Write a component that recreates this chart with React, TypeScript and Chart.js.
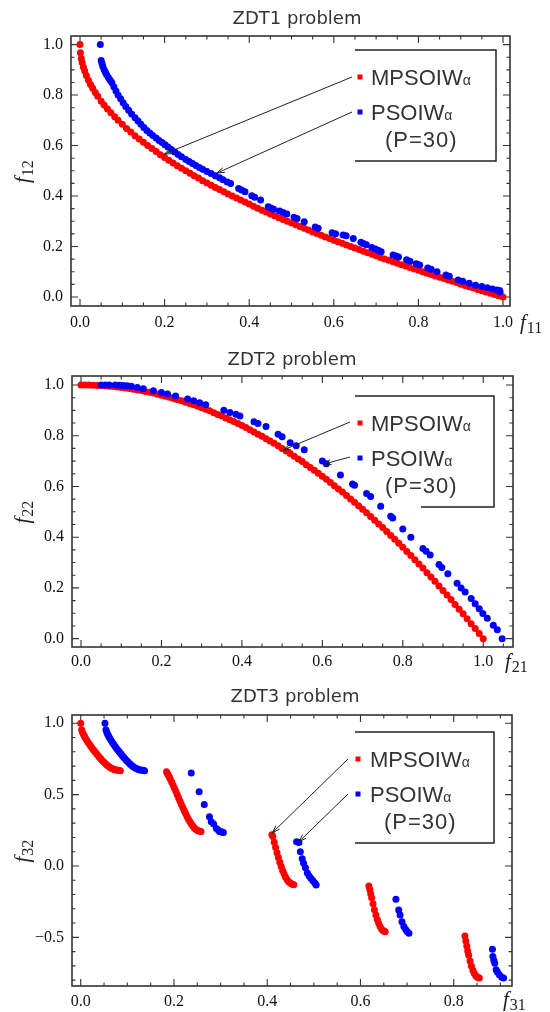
import React, { useEffect, useRef } from 'react';
import { Chart, registerables } from 'chart.js';

Chart.register(...registerables);

// ---------------- DATA ----------------
// ZDT1
const zdt1MpsoF1 = [0, 0.001, 0.003, 0.005, 0.008, 0.011, 0.015, 0.02, 0.025, 0.03, 0.036, 0.042, 0.05, 0.057, 0.065, 0.073, 0.082, 0.09,
  0.10, 0.11, 0.12, 0.13, 0.14, 0.15, 0.16, 0.17, 0.18, 0.19, 0.20, 0.21, 0.22, 0.23, 0.24, 0.25, 0.26, 0.27, 0.28, 0.29,
  0.30, 0.31, 0.32, 0.33, 0.34, 0.35, 0.36, 0.37, 0.38, 0.39, 0.40, 0.41, 0.42, 0.43, 0.44, 0.45, 0.46, 0.47, 0.48, 0.49,
  0.50, 0.51, 0.52, 0.53, 0.54, 0.55, 0.56, 0.57, 0.58, 0.59, 0.60, 0.61, 0.62, 0.63, 0.64, 0.65, 0.66, 0.67, 0.68, 0.69,
  0.70, 0.71, 0.72, 0.73, 0.74, 0.75, 0.76, 0.77, 0.78, 0.79, 0.80, 0.81, 0.82, 0.83, 0.84, 0.85, 0.86, 0.87, 0.88, 0.89,
  0.90, 0.91, 0.92, 0.93, 0.94, 0.95, 0.96, 0.97, 0.98, 0.99, 1.00];
const zdt1MpsoF2 = [1.000, 0.968, 0.945, 0.929, 0.911, 0.895, 0.878, 0.859, 0.842, 0.827, 0.810, 0.795, 0.776, 0.761, 0.745, 0.730, 0.714, 0.700,
  0.684, 0.668, 0.654, 0.639, 0.626, 0.613, 0.600, 0.588, 0.576, 0.564, 0.553, 0.542, 0.531, 0.520, 0.510, 0.500, 0.490, 0.480, 0.471, 0.461,
  0.452, 0.443, 0.434, 0.426, 0.417, 0.408, 0.400, 0.392, 0.384, 0.376, 0.368, 0.360, 0.352, 0.344, 0.337, 0.329, 0.322, 0.314, 0.307, 0.300,
  0.293, 0.286, 0.279, 0.272, 0.265, 0.258, 0.252, 0.245, 0.238, 0.232, 0.225, 0.219, 0.213, 0.206, 0.200, 0.194, 0.188, 0.181, 0.175, 0.169,
  0.163, 0.157, 0.151, 0.146, 0.140, 0.134, 0.128, 0.123, 0.117, 0.111, 0.106, 0.100, 0.094, 0.089, 0.083, 0.078, 0.073, 0.067, 0.062, 0.057,
  0.051, 0.046, 0.041, 0.036, 0.030, 0.025, 0.020, 0.015, 0.010, 0.005, 0.000];
const zdt1PsoF1 = [0.048, 0.050, 0.052, 0.054, 0.057, 0.060, 0.063, 0.067, 0.071, 0.075, 0.080, 0.085, 0.090, 0.096, 0.102, 0.108, 0.115, 0.122,
  0.130, 0.137, 0.144, 0.151, 0.158, 0.165, 0.172, 0.180, 0.187, 0.194, 0.201, 0.208, 0.216, 0.224, 0.232, 0.240, 0.250, 0.258, 0.266, 0.274,
  0.282, 0.290, 0.300, 0.310, 0.320, 0.330, 0.338, 0.348, 0.356, 0.375, 0.382, 0.390, 0.406, 0.413, 0.427, 0.445, 0.451, 0.458, 0.472, 0.480,
  0.489, 0.506, 0.513, 0.530, 0.556, 0.563, 0.596, 0.604, 0.622, 0.629, 0.646, 0.664, 0.670, 0.677, 0.690, 0.698, 0.705, 0.712, 0.740, 0.747,
  0.753, 0.772, 0.780, 0.795, 0.803, 0.822, 0.830, 0.844, 0.865, 0.873, 0.894, 0.905, 0.920, 0.935, 0.950, 0.963, 0.975, 0.985, 0.992, 0.993];
const zdt1PsoF2 = [1.000, 0.937, 0.925, 0.913, 0.900, 0.890, 0.880, 0.870, 0.860, 0.850, 0.833, 0.816, 0.800, 0.785, 0.770, 0.755, 0.740, 0.725,
  0.710, 0.697, 0.684, 0.672, 0.660, 0.650, 0.640, 0.630, 0.620, 0.612, 0.603, 0.594, 0.584, 0.574, 0.565, 0.556, 0.545, 0.537, 0.529, 0.521,
  0.513, 0.506, 0.497, 0.489, 0.480, 0.472, 0.465, 0.456, 0.450, 0.430, 0.424, 0.417, 0.401, 0.395, 0.384, 0.358, 0.353, 0.348, 0.341, 0.335,
  0.329, 0.316, 0.311, 0.298, 0.277, 0.272, 0.255, 0.251, 0.246, 0.243, 0.232, 0.217, 0.212, 0.207, 0.196, 0.190, 0.185, 0.179, 0.166, 0.162,
  0.159, 0.148, 0.142, 0.132, 0.127, 0.115, 0.110, 0.100, 0.087, 0.082, 0.067, 0.062, 0.055, 0.047, 0.042, 0.037, 0.032, 0.028, 0.026, 0.020];

// ZDT2
const zdt2MpsoF1 = [0.00, 0.01, 0.02, 0.03, 0.04, 0.05, 0.06, 0.07, 0.08, 0.09, 0.10, 0.11, 0.12, 0.13, 0.14, 0.15, 0.16, 0.17, 0.18, 0.19,
  0.20, 0.21, 0.22, 0.23, 0.24, 0.25, 0.26, 0.27, 0.28, 0.29, 0.30, 0.31, 0.32, 0.33, 0.34, 0.35, 0.36, 0.37, 0.38, 0.39,
  0.40, 0.41, 0.42, 0.43, 0.44, 0.45, 0.46, 0.47, 0.48, 0.49, 0.50, 0.51, 0.52, 0.53, 0.54, 0.55, 0.56, 0.57, 0.58, 0.59,
  0.60, 0.61, 0.62, 0.63, 0.64, 0.65, 0.66, 0.67, 0.68, 0.69, 0.70, 0.71, 0.72, 0.73, 0.74, 0.75, 0.76, 0.77, 0.78, 0.79,
  0.80, 0.81, 0.82, 0.83, 0.84, 0.85, 0.86, 0.87, 0.88, 0.89, 0.90, 0.91, 0.92, 0.93, 0.94, 0.95, 0.96, 0.97, 0.98, 0.99, 1.00];
const zdt2MpsoF2 = [1.000, 1.000, 1.000, 0.999, 0.998, 0.998, 0.996, 0.995, 0.994, 0.992, 0.990, 0.988, 0.986, 0.983, 0.980, 0.978, 0.974, 0.971, 0.968, 0.964,
  0.960, 0.956, 0.952, 0.947, 0.942, 0.938, 0.932, 0.927, 0.922, 0.916, 0.910, 0.904, 0.898, 0.891, 0.884, 0.878, 0.870, 0.863, 0.856, 0.848,
  0.840, 0.832, 0.824, 0.815, 0.806, 0.798, 0.788, 0.779, 0.770, 0.760, 0.750, 0.740, 0.730, 0.719, 0.708, 0.698, 0.686, 0.675, 0.664, 0.652,
  0.640, 0.628, 0.616, 0.603, 0.590, 0.578, 0.564, 0.551, 0.538, 0.524, 0.510, 0.496, 0.482, 0.467, 0.452, 0.438, 0.422, 0.407, 0.392, 0.376,
  0.360, 0.344, 0.328, 0.311, 0.294, 0.278, 0.260, 0.243, 0.226, 0.208, 0.190, 0.172, 0.154, 0.135, 0.116, 0.098, 0.078, 0.059, 0.040, 0.020, 0.000];
const zdt2PsoF1 = [0.050, 0.060, 0.070, 0.085, 0.095, 0.105, 0.115, 0.125, 0.140, 0.155, 0.180, 0.200, 0.215, 0.235, 0.265, 0.280, 0.295, 0.310,
  0.355, 0.370, 0.385, 0.395, 0.430, 0.440, 0.460, 0.490, 0.500, 0.520, 0.535, 0.555, 0.600, 0.610, 0.645, 0.675, 0.680, 0.710, 0.720, 0.745,
  0.770, 0.775, 0.800, 0.820, 0.850, 0.858, 0.868, 0.890, 0.897, 0.912, 0.935, 0.945, 0.955, 0.970, 0.980, 0.990, 0.999, 1.010, 1.025, 1.035, 1.047];
const zdt2PsoF2 = [1.000, 1.000, 1.000, 1.000, 0.999, 0.998, 0.997, 0.995, 0.990, 0.985, 0.977, 0.970, 0.965, 0.957, 0.945, 0.938, 0.930, 0.922,
  0.900, 0.892, 0.885, 0.878, 0.855, 0.848, 0.836, 0.806, 0.796, 0.772, 0.760, 0.745, 0.700, 0.690, 0.645, 0.610, 0.605, 0.572, 0.560, 0.522,
  0.483, 0.476, 0.432, 0.400, 0.355, 0.345, 0.330, 0.292, 0.280, 0.256, 0.218, 0.200, 0.184, 0.158, 0.138, 0.118, 0.099, 0.080, 0.053, 0.035, 0.000];

// ZDT3
const zdt3MpsoF1 = [0, 0.002, 0.004, 0.006, 0.008, 0.010, 0.013, 0.016, 0.019, 0.022, 0.025, 0.028, 0.031, 0.034, 0.037, 0.040, 0.043, 0.046,
  0.049, 0.052, 0.055, 0.058, 0.061, 0.064, 0.067, 0.070, 0.073, 0.076, 0.079, 0.082, 0.085,
  0.184, 0.186, 0.188, 0.190, 0.192, 0.195, 0.198, 0.201, 0.204, 0.207, 0.210, 0.213, 0.216, 0.219, 0.222, 0.225, 0.228, 0.231, 0.234,
  0.237, 0.240, 0.243, 0.246, 0.249, 0.252, 0.255, 0.258,
  0.410, 0.412, 0.415, 0.418, 0.421, 0.424, 0.427, 0.430, 0.433, 0.436, 0.439, 0.442, 0.445, 0.448, 0.451, 0.454, 0.457,
  0.618, 0.620, 0.622, 0.624, 0.627, 0.630, 0.633, 0.636, 0.639, 0.642, 0.645, 0.648, 0.651, 0.653,
  0.824, 0.826, 0.828, 0.830, 0.832, 0.835, 0.838, 0.841, 0.844, 0.847, 0.850, 0.853, 0.855];
const zdt3MpsoF2 = [1.000, 0.955, 0.936, 0.921, 0.909, 0.897, 0.881, 0.866, 0.852, 0.838, 0.824, 0.811, 0.798, 0.786, 0.774, 0.762, 0.751, 0.740,
  0.730, 0.720, 0.711, 0.703, 0.696, 0.689, 0.683, 0.679, 0.675, 0.672, 0.671, 0.670, 0.668,
  0.660, 0.648, 0.636, 0.623, 0.610, 0.589, 0.567, 0.545, 0.523, 0.500, 0.477, 0.454, 0.431, 0.409, 0.387, 0.367, 0.347, 0.328, 0.311,
  0.296, 0.282, 0.270, 0.260, 0.252, 0.247, 0.243, 0.242,
  0.218, 0.207, 0.167, 0.130, 0.093, 0.059, 0.026, -0.004, -0.031, -0.055, -0.076, -0.093, -0.107, -0.116, -0.122, -0.128, -0.131,
  -0.140, -0.165, -0.195, -0.222, -0.265, -0.306, -0.343, -0.375, -0.402, -0.424, -0.441, -0.452, -0.458, -0.460,
  -0.490, -0.525, -0.560, -0.595, -0.625, -0.665, -0.700, -0.730, -0.752, -0.768, -0.778, -0.784, -0.785];
const zdt3PsoF1 = [0.052, 0.054, 0.056, 0.058, 0.060, 0.062, 0.065, 0.068, 0.071, 0.074, 0.077, 0.080, 0.083, 0.086, 0.089, 0.092, 0.095, 0.098,
  0.101, 0.104, 0.107, 0.110, 0.113, 0.116, 0.119, 0.122, 0.125, 0.128, 0.131, 0.134, 0.137,
  0.237, 0.254, 0.265, 0.276, 0.280, 0.285, 0.291, 0.295, 0.298, 0.302, 0.304, 0.306,
  0.463, 0.468, 0.471, 0.475, 0.478, 0.482, 0.486, 0.490, 0.494, 0.498, 0.502, 0.505,
  0.676, 0.682, 0.685, 0.689, 0.693, 0.697, 0.700, 0.704,
  0.883, 0.884, 0.886, 0.888, 0.891, 0.894, 0.898, 0.903, 0.907];
const zdt3PsoF2 = [1.000, 0.955, 0.936, 0.921, 0.909, 0.897, 0.881, 0.866, 0.852, 0.838, 0.824, 0.811, 0.798, 0.786, 0.774, 0.762, 0.751, 0.740,
  0.730, 0.720, 0.711, 0.703, 0.696, 0.689, 0.683, 0.679, 0.675, 0.672, 0.671, 0.670, 0.668,
  0.652, 0.520, 0.431, 0.345, 0.310, 0.294, 0.263, 0.252, 0.240, 0.240, 0.236, 0.235,
  0.170, 0.165, 0.100, 0.050, 0.020, -0.012, -0.050, -0.070, -0.088, -0.103, -0.120, -0.133,
  -0.233, -0.308, -0.343, -0.390, -0.424, -0.445, -0.459, -0.471,
  -0.583, -0.634, -0.660, -0.681, -0.727, -0.745, -0.762, -0.780, -0.785];

// Tick labels
const ticksX01 = [0, 0.2, 0.4, 0.6, 0.8, 1.0];
const ticksY01 = [0, 0.2, 0.4, 0.6, 0.8, 1.0];
const ticksX3 = [0, 0.2, 0.4, 0.6, 0.8];
const ticksY3 = [-0.5, 0, 0.5, 1.0];

const seriesNames = ['MPSOIW', 'PSOIW'];
const legendSuffix = 'α';
const legendNote = '(P=30)';
const titles = ['ZDT1 problem', 'ZDT2 problem', 'ZDT3 problem'];

// ---------------- LAYOUT ----------------
type Panel = {
  title: string; titleX: number; titleY: number;
  canvasTop: number; canvasH: number;
  area: { left: number; right: number; top: number; bottom: number };
  xMin: number; xMax: number; yMin: number; yMax: number;
  xTicks: number[]; yTicks: number[]; xMinor: number; yMinor: number;
  xPad: number;
  red: { x: number; y: number }[]; blue: { x: number; y: number }[];
  xSub: string; ySub: string; xTitleX: number; xTitleY: number;
  legend: { left: number; right: number; m1y: number; mx: number; tx: number; px: number; bottomStart: number };
  arrows: { tail: [number, number]; head: [number, number] }[];
};

const zip = (xs: number[], ys: number[]) => xs.map((x, i) => ({ x, y: ys[i] }));

const PANELS: Panel[] = [
  {
    title: titles[0], titleX: 297, titleY: 19, canvasTop: 0, canvasH: 340,
    area: { left: 71, right: 510, top: 36, bottom: 306 },
    xMin: -0.0213, xMax: 1.0165, yMin: -0.0356, yMax: 1.034,
    xTicks: ticksX01, yTicks: ticksY01, xMinor: 0.05, yMinor: 0.05, xPad: 7,
    red: zip(zdt1MpsoF1, zdt1MpsoF2), blue: zip(zdt1PsoF1, zdt1PsoF2),
    xSub: '11', ySub: '12', xTitleX: 520, xTitleY: 323,
    legend: { left: 355, right: 496, m1y: 77, mx: 360, tx: 371, px: 385, bottomStart: 355 },
    arrows: [{ tail: [352, 77], head: [0.199, 0.566] }, { tail: [352, 112], head: [0.324, 0.491] }],
  },
  {
    title: titles[1], titleX: 292, titleY: 20, canvasTop: 340, canvasH: 345,
    area: { left: 72, right: 513, top: 36, bottom: 307 },
    xMin: -0.0224, xMax: 1.074, yMin: -0.033, yMax: 1.0355,
    xTicks: ticksX01, yTicks: ticksY01, xMinor: 0.05, yMinor: 0.05, xPad: 5.5,
    red: zip(zdt2MpsoF1, zdt2MpsoF2), blue: zip(zdt2PsoF1, zdt2PsoF2),
    xSub: '21', ySub: '22', xTitleX: 505, xTitleY: 322,
    legend: { left: 355, right: 494, m1y: 83, mx: 360, tx: 371, px: 385, bottomStart: 421 },
    arrows: [{ tail: [350, 82], head: [0.502, 0.743] }, { tail: [350, 117], head: [0.603, 0.688] }],
  },
  {
    title: titles[2], titleX: 295, titleY: 27, canvasTop: 670, canvasH: 342,
    area: { left: 72, right: 512, top: 45, bottom: 316 },
    xMin: -0.0187, xMax: 0.925, yMin: -0.841, yMax: 1.058,
    xTicks: ticksX3, yTicks: ticksY3, xMinor: 0.05, yMinor: 0.1, xPad: 6,
    red: zip(zdt3MpsoF1, zdt3MpsoF2), blue: zip(zdt3PsoF1, zdt3PsoF2),
    xSub: '31', ySub: '32', xTitleX: 503, xTitleY: 330,
    legend: { left: 355, right: 494, m1y: 89, mx: 358, tx: 370, px: 384, bottomStart: 355 },
    arrows: [{ tail: [348, 89], head: [0.411, 0.233] }, { tail: [348, 124], head: [0.468, 0.17] }],
  },
];

const RED = '#ff0000';
const BLUE = '#0000ff';
const INK = '#333333';
const PT_R = 3.5;

const fmt = (v: number) => (v < 0 ? '\u2212' + (-v).toFixed(1) : v.toFixed(1));

function minorValues(min: number, max: number, step: number) {
  const out: number[] = [];
  const k0 = Math.ceil(min / step - 1e-9);
  const k1 = Math.floor(max / step + 1e-9);
  for (let k = k0; k <= k1; k++) out.push(Math.round(k * step * 1000) / 1000);
  return out;
}

function drawFLabel(ctx: CanvasRenderingContext2D, sub: string) {
  ctx.font = 'italic 21px "Liberation Serif"';
  ctx.textAlign = 'left';
  ctx.textBaseline = 'alphabetic';
  ctx.fillText('f', 0, 0);
  const w = ctx.measureText('f').width;
  ctx.font = '16px "Liberation Serif"';
  ctx.fillText(sub, w + 1, 4);
}

function panelPlugin(p: Panel) {
  return {
    id: 'panelDecor',
    beforeDatasetsDraw(chart: any) {
      const { ctx, chartArea: a, scales } = chart;
      const xs = scales.x, ys = scales.y;
      ctx.save();
      ctx.strokeStyle = INK;
      ctx.lineWidth = 1.1;
      const isMajor = (v: number, list: number[]) => list.some(t => Math.abs(t - v) < 1e-6);
      ctx.beginPath();
      for (const v of minorValues(p.xMin, p.xMax, p.xMinor)) {
        const len = isMajor(v, p.xTicks) ? 7 : 3.5;
        const px = xs.getPixelForValue(v);
        ctx.moveTo(px, a.bottom); ctx.lineTo(px, a.bottom - len);
        ctx.moveTo(px, a.top); ctx.lineTo(px, a.top + len);
      }
      for (const v of minorValues(p.yMin, p.yMax, p.yMinor)) {
        const len = isMajor(v, p.yTicks) ? 7 : 3.5;
        const py = ys.getPixelForValue(v);
        ctx.moveTo(a.left, py); ctx.lineTo(a.left + len, py);
        ctx.moveTo(a.right, py); ctx.lineTo(a.right - len, py);
      }
      ctx.stroke();
      ctx.lineWidth = 1.6;
      ctx.strokeRect(a.left, a.top, a.right - a.left, a.bottom - a.top);
      ctx.restore();
    },
    afterDatasetsDraw(chart: any) {
      const { ctx, scales } = chart;
      const L = p.legend;
      ctx.save();
      // legend frame (open on the left)
      const top = L.m1y - 27, bottom = L.m1y + 84;
      ctx.strokeStyle = '#222';
      ctx.lineWidth = 1.5;
      ctx.beginPath();
      ctx.moveTo(L.left, top); ctx.lineTo(L.right, top); ctx.lineTo(L.right, bottom); ctx.lineTo(L.bottomStart, bottom);
      ctx.stroke();
      // markers
      const m2y = L.m1y + 35;
      ctx.fillStyle = RED; ctx.fillRect(L.mx - 2.5, L.m1y - 2.5, 5, 5);
      ctx.fillStyle = BLUE; ctx.fillRect(L.mx - 2.5, m2y - 2.5, 5, 5);
      // texts
      ctx.fillStyle = INK;
      ctx.textBaseline = 'alphabetic';
      ctx.textAlign = 'left';
      const rows: [string, number][] = [[seriesNames[0], L.m1y], [seriesNames[1], m2y]];
      for (const [t, y] of rows) {
        ctx.font = '22px "Liberation Sans"';
        ctx.fillText(t, L.tx, y + 8);
        const w = ctx.measureText(t).width;
        ctx.font = '14px "Liberation Sans"';
        ctx.fillText(legendSuffix, L.tx + w, y + 8);
      }
      ctx.font = '22px "Liberation Sans"';
      (ctx as any).letterSpacing = '1px';
      ctx.fillText(legendNote, L.px, m2y + 27 + 8);
      (ctx as any).letterSpacing = '0px';
      // arrows
      ctx.strokeStyle = '#222';
      ctx.lineWidth = 1;
      for (const ar of p.arrows) {
        const [tx, ty] = ar.tail;
        const hx = scales.x.getPixelForValue(ar.head[0]);
        const hy = scales.y.getPixelForValue(ar.head[1]);
        const ang = Math.atan2(ty - hy, tx - hx);
        ctx.beginPath();
        ctx.moveTo(tx, ty); ctx.lineTo(hx, hy);
        const hl = 8, ha = 0.32;
        ctx.moveTo(hx + hl * Math.cos(ang + ha), hy + hl * Math.sin(ang + ha));
        ctx.lineTo(hx, hy);
        ctx.lineTo(hx + hl * Math.cos(ang - ha), hy + hl * Math.sin(ang - ha));
        ctx.stroke();
      }
      ctx.restore();
    },
    afterDraw(chart: any) {
      const { ctx, chartArea: a } = chart;
      ctx.save();
      ctx.fillStyle = INK;
      ctx.font = '18px "DejaVu Sans"';
      ctx.textAlign = 'center';
      ctx.textBaseline = 'middle';
      ctx.fillText(p.title, p.titleX, p.titleY);
      // x title
      ctx.fillStyle = '#222';
      ctx.save();
      ctx.translate(p.xTitleX, p.xTitleY + 6);
      drawFLabel(ctx, p.xSub);
      ctx.restore();
      // y title (rotated)
      ctx.save();
      ctx.translate(29, (a.top + a.bottom) / 2 + 12);
      ctx.rotate(-Math.PI / 2);
      drawFLabel(ctx, p.ySub);
      ctx.restore();
      ctx.restore();
    },
  };
}

function makeChart(canvas: HTMLCanvasElement, p: Panel) {
  const tickFont = { family: '"Liberation Serif"', size: 16 };
  return new Chart(canvas, {
    type: 'scatter',
    data: {
      datasets: [
        { label: seriesNames[1], data: p.blue, pointRadius: PT_R, pointBackgroundColor: BLUE, pointBorderWidth: 0, showLine: false },
        { label: seriesNames[0], data: p.red, pointRadius: PT_R, pointBackgroundColor: RED, pointBorderWidth: 0, showLine: false },
      ],
    },
    options: {
      responsive: false,
      animation: false,
      devicePixelRatio: 1,
      layout: { padding: { top: p.area.top, right: 550 - p.area.right, left: 0, bottom: 0 } },
      plugins: { legend: { display: false }, tooltip: { enabled: false }, title: { display: false } },
      elements: { point: { hoverRadius: PT_R } },
      scales: {
        x: {
          type: 'linear', min: p.xMin, max: p.xMax,
          grid: { display: false, drawTicks: false },
          border: { display: false },
          afterBuildTicks: (s: any) => { s.ticks = p.xTicks.map(v => ({ value: v })); },
          afterFit: (s: any) => { s.height = p.canvasH - p.area.bottom; },
          ticks: { padding: p.xPad, font: tickFont, color: '#111', maxRotation: 0, autoSkip: false, callback: (v: any) => fmt(Number(v)) },
        },
        y: {
          type: 'linear', min: p.yMin, max: p.yMax,
          grid: { display: false, drawTicks: false },
          border: { display: false },
          afterBuildTicks: (s: any) => { s.ticks = p.yTicks.map(v => ({ value: v })); },
          afterFit: (s: any) => { s.width = p.area.left; },
          ticks: { padding: 8, font: tickFont, color: '#111', autoSkip: false, callback: (v: any) => fmt(Number(v)) },
        },
      },
    } as any,
    plugins: [panelPlugin(p)],
  });
}

export default function App() {
  const r0 = useRef<HTMLCanvasElement>(null);
  const r1 = useRef<HTMLCanvasElement>(null);
  const r2 = useRef<HTMLCanvasElement>(null);
  const refs = [r0, r1, r2];
  useEffect(() => {
    const charts = PANELS.map((p, i) => makeChart(refs[i].current as HTMLCanvasElement, p));
    return () => charts.forEach(c => c.destroy());
  }, []);
  return (
    <div style={{ position: 'absolute', left: 0, top: 0, width: 550, height: 1012, background: '#fff', overflow: 'hidden' }}>
      {PANELS.map((p, i) => (
        <canvas
          key={i}
          ref={refs[i]}
          width={550}
          height={p.canvasH}
          style={{ position: 'absolute', left: 0, top: p.canvasTop, width: 550, height: p.canvasH }}
        />
      ))}
    </div>
  );
}
